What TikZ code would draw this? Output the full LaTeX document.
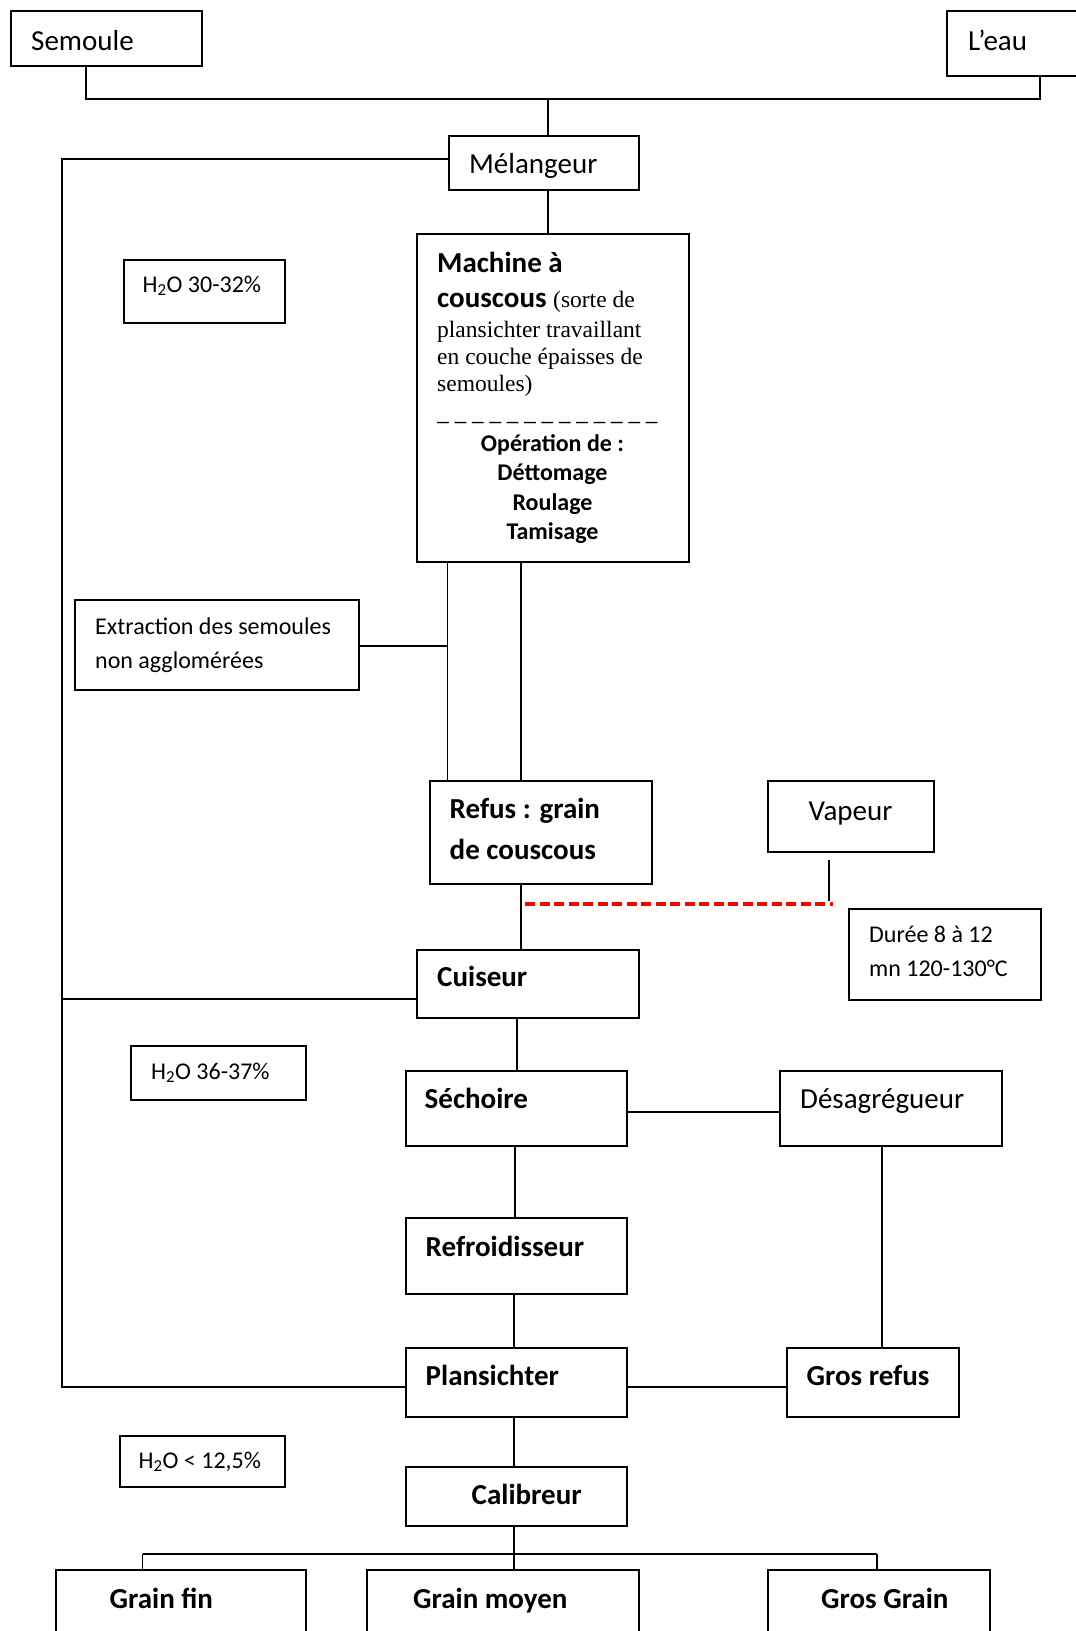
\documentclass[tikz,border=0pt]{standalone}
\usepackage{fontspec}
\setmainfont{Carlito}
\newfontfamily\seriffont{Liberation Serif}
\begin{document}
\begin{tikzpicture}[x=1pt,y=-1pt,
  box/.style={draw, line width=1.5pt, inner sep=0pt, anchor=north west},
  ln/.style={line width=1.3pt},
  bigt/.style={font=\fontsize{29}{35}\selectfont, anchor=base west, inner sep=0pt},
  bigb/.style={font=\fontsize{29}{35}\selectfont\bfseries, anchor=base west, inner sep=0pt},
  smallt/.style={font=\fontsize{24}{29}\selectfont, anchor=base west, inner sep=0pt},
  smallb/.style={font=\fontsize{24}{29}\selectfont\bfseries, anchor=base, inner sep=0pt},
  sert/.style={font=\seriffont\fontsize{23.5}{28}\selectfont, anchor=base west, inner sep=0pt},
  reddash/.style={draw=red, line width=3.5pt, dash pattern=on 10pt off 4.5pt}]
\useasboundingbox (0,0) rectangle (1076,1631);
\fill[white] (0,0) rectangle (1076,1631);

% boxes
\node[box, minimum width=191pt, minimum height=55pt] (sem) at (10,10) {};
\node[box, minimum width=140pt, minimum height=65pt] (leau) at (946,10) {};
\node[box, minimum width=190pt, minimum height=54pt] (mel) at (448,135) {};
\node[box, minimum width=272pt, minimum height=328pt] (mach) at (416,233) {};
\node[box, minimum width=161pt, minimum height=63pt] (h1) at (123,259) {};
\node[box, minimum width=284pt, minimum height=90pt] (ext) at (74,599) {};
\node[box, minimum width=222pt, minimum height=103pt] (refus) at (429,780) {};
\node[box, minimum width=166pt, minimum height=71pt] (vap) at (767,780) {};
\node[box, minimum width=192pt, minimum height=91pt] (duree) at (848,908) {};
\node[box, minimum width=222pt, minimum height=68pt] (cui) at (416,949) {};
\node[box, minimum width=175pt, minimum height=54pt] (h2) at (130,1045) {};
\node[box, minimum width=221pt, minimum height=75pt] (sech) at (405,1070) {};
\node[box, minimum width=222pt, minimum height=75pt] (desag) at (779,1070) {};
\node[box, minimum width=221pt, minimum height=76pt] (refr) at (405,1217) {};
\node[box, minimum width=221pt, minimum height=69pt] (plan) at (405,1347) {};
\node[box, minimum width=172pt, minimum height=69pt] (gros) at (786,1347) {};
\node[box, minimum width=165pt, minimum height=51pt] (h3) at (119,1435) {};
\node[box, minimum width=221pt, minimum height=59pt] (cal) at (405,1466) {};
\node[box, minimum width=250pt, minimum height=80pt] (gfin) at (55,1569) {};
\node[box, minimum width=272pt, minimum height=80pt] (gmoy) at (366,1569) {};
\node[box, minimum width=222pt, minimum height=80pt] (ggr) at (767,1569) {};

% texts
\node[bigt] (semt) at (31,50) {Semoule};
\node[bigt] (leaut) at (968,50) {L’eau};
\node[bigt] (melt) at (469,173) {Mélangeur};
\node[bigb] (m1) at (437,272) {Machine à};
\node[bigb] (m2) at (437,307) {couscous {\seriffont\mdseries\fontsize{23.5}{28}\selectfont (sorte de}};
\node[sert] (m3) at (437,337) {plansichter travaillant};
\node[sert] (m4) at (437,364) {en couche épaisses de};
\node[sert] (m5) at (437,391) {semoules)};
\node[smallt] (m6) at (437,420) {\_ \_ \_ \_ \_ \_ \_ \_ \_ \_ \_ \_ \_};
\node[smallb] (o1) at (552.5,451) {Opération de :};
\node[smallb] (o2) at (552.5,480) {Déttomage};
\node[smallb] (o3) at (552.5,510) {Roulage};
\node[smallb] (o4) at (552.5,539) {Tamisage};
\node[smallt] (h1t) at (142.5,292) {H\textsubscript{2}O 30-32\%};
\node[smallt] (ext1) at (95,634) {Extraction des semoules};
\node[smallt] (ext2) at (95,668) {non agglomérées};
\node[bigb] (ref1) at (449.5,818) {Refus : grain};
\node[bigb] (ref2) at (449.5,859.5) {de couscous};
\node[bigt] (vapt) at (808.5,820) {Vapeur};
\node[smallt] (d1) at (869,942) {Durée 8 à 12};
\node[smallt] (d2) at (869,976) {mn 120-130°C};
\node[bigb] (cuit) at (437,986.5) {Cuiseur};
\node[smallt] (h2t) at (151,1079) {H\textsubscript{2}O 36-37\%};
\node[bigb] (secht) at (424.5,1108) {Séchoire};
\node[bigt] (desagt) at (800,1108) {Désagrégueur};
\node[bigb] (refrt) at (425.5,1256) {Refroidisseur};
\node[bigb] (plant) at (425.5,1385) {Plansichter};
\node[bigb] (grost) at (806.5,1385) {Gros refus};
\node[smallt] (h3t) at (138.5,1468) {H\textsubscript{2}O < 12,5\%};
\node[bigb] (calt) at (471.5,1504) {Calibreur};
\node[bigb] (gfint) at (109.5,1608) {Grain fin};
\node[bigb] (gmoyt) at (413,1608) {Grain moyen};
\node[bigb] (ggrt) at (821,1608) {Gros Grain};

% junction coordinates
\coordinate (jl) at (86,99);
\coordinate (jr) at (1040,99);
\coordinate (jm) at (548,99);
\coordinate (lt) at (62,159);
\coordinate (lb) at (62,1387);
\coordinate (lc) at (62,999);
\coordinate (ej) at (447.5,646);
\coordinate (v1) at (829,860);
\coordinate (v2) at (829,901);
\coordinate (r1) at (525,904);
\coordinate (r2) at (833,904);
\coordinate (dl) at (142.5,1554);
\coordinate (dr) at (877,1554);

% connectors
\draw[ln] (sem.south -| jl) -- (jl) -- (jr) -- (leau.south -| jr);
\draw[ln] (jm) -- (mel.north -| jm);
\draw[ln] (mel.south -| jm) -- (mach.north -| jm);
\draw[ln] (mel.west |- lt) -- (lt) -- (lb) -- (plan.west |- lb);
\draw[ln] (cui.west |- lc) -- (lc);
\draw[ln] (mach.south -| 447.5,0) -- (refus.north -| 447.5,0);
\draw[ln] (mach.south -| 521,0) -- (refus.north -| 521,0);
\draw[ln] (ext.east |- ej) -- (ej);
\draw[ln] (refus.south -| 521,0) -- (cui.north -| 521,0);
\draw[ln] (v1) -- (v2);
\draw[reddash] (r1) -- (r2);
\draw[ln] (cui.south -| 517,0) -- (sech.north -| 517,0);
\draw[ln] (sech.east |- 0,1112) -- (desag.west |- 0,1112);
\draw[ln] (desag.south -| 882,0) -- (gros.north -| 882,0);
\draw[ln] (sech.south -| 515,0) -- (refr.north -| 515,0);
\draw[ln] (refr.south -| 514,0) -- (plan.north -| 514,0);
\draw[ln] (plan.east |- lb) -- (gros.west |- lb);
\draw[ln] (plan.south -| 514,0) -- (cal.north -| 514,0);
\draw[ln] (cal.south -| 514,0) -- (gmoy.north -| 514,0);
\draw[ln] (dl) -- (dr);
\draw[ln] (gfin.north -| dl) -- (dl);
\draw[ln] (ggr.north -| dr) -- (dr);
\end{tikzpicture}
\end{document}
